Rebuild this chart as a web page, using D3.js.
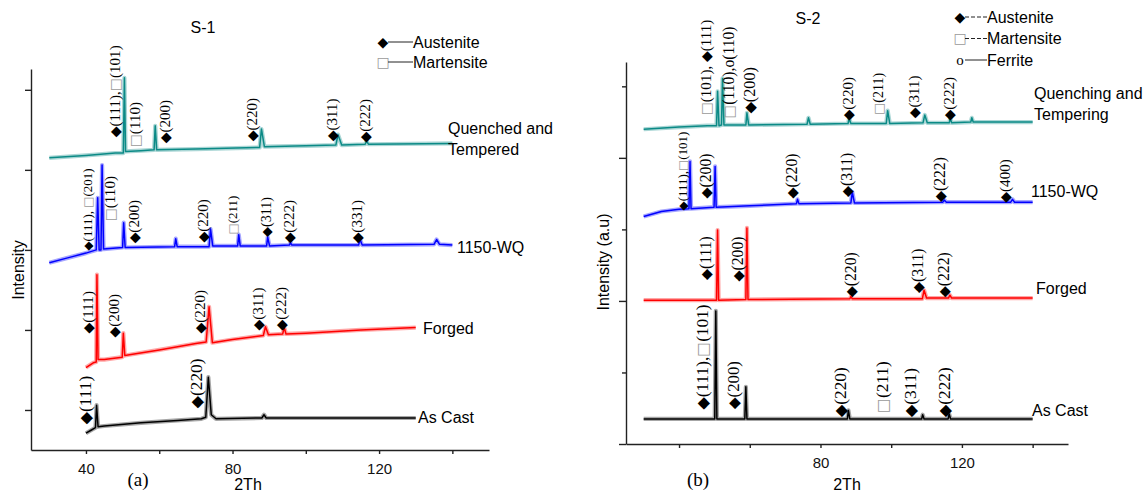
<!DOCTYPE html>
<html>
<head>
<meta charset="utf-8">
<script src="https://cdn.jsdelivr.net/npm/d3@7"></script>
<style>
  body { margin: 0; background: #fff; }
  text { font-family: "Liberation Sans", Arial, sans-serif; }
</style>
</head>
<body>
<svg id="chart" width="1145" height="495"></svg>
<script>

// XRD patterns: [2Th, intensity (stacked offset units)]
var s1AsCast = [[40,0.21],[41.5,0.25],[42.6,0.28],[42.9,0.56],[43.3,0.29],[45,0.30],[55,0.34],[65,0.37],[71.5,0.39],[72.7,0.41],[73.4,0.91],[74.2,0.44],[75.5,0.39],[88,0.40],[88.6,0.44],[89.2,0.40],[130,0.40]];
var s1Forged = [[40,1.03],[42,1.09],[42.8,1.10],[43.0,2.19],[43.3,1.13],[45,1.13],[49.9,1.16],[50.2,1.46],[50.6,1.18],[60,1.25],[70,1.33],[72.8,1.35],[73.6,1.79],[74.5,1.34],[80,1.38],[88.4,1.43],[89.0,1.54],[89.8,1.44],[93.7,1.45],[94.1,1.53],[94.6,1.45],[100,1.46],[115,1.50],[130,1.53]];
var s1WQ = [[30,2.34],[35,2.40],[40,2.46],[42.8,2.50],[43.2,3.15],[43.6,2.50],[44.1,2.50],[44.4,3.56],[44.8,2.51],[50.0,2.53],[50.3,2.84],[50.7,2.53],[64.2,2.54],[64.5,2.64],[64.9,2.54],[73.6,2.54],[74.0,2.76],[74.6,2.55],[81.4,2.55],[81.7,2.69],[82.1,2.55],[89.3,2.55],[89.6,2.66],[90.1,2.55],[95.5,2.56],[95.8,2.59],[96.2,2.56],[114.4,2.56],[114.8,2.63],[115.4,2.56],[135,2.57],[135.7,2.63],[136.5,2.57],[140,2.56]];
var s1QT = [[30,3.65],[40,3.68],[48,3.71],[50.2,3.71],[50.5,4.65],[50.8,3.73],[55,3.74],[58.6,3.75],[58.9,4.05],[59.3,3.75],[70,3.76],[87.4,3.78],[87.9,4.01],[88.7,3.79],[100,3.80],[108.2,3.81],[108.8,3.94],[109.8,3.81],[116.2,3.82],[116.6,3.86],[117.1,3.82],[140,3.83]];

var s2AsCast = [[30,0.35],[50.1,0.35],[50.4,1.86],[50.7,0.35],[58.6,0.35],[58.9,0.80],[59.2,0.35],[87.6,0.35],[87.9,0.47],[88.3,0.35],[108.6,0.35],[108.9,0.41],[109.3,0.35],[116.1,0.35],[116.4,0.42],[116.8,0.35],[140,0.35]];
var s2Forged = [[30,2.01],[50.6,2.01],[50.9,2.99],[51.2,2.01],[58.9,2.02],[59.2,3.02],[59.5,2.02],[88.3,2.03],[88.6,2.06],[89,2.03],[108.8,2.03],[109.3,2.15],[110.0,2.04],[116.2,2.04],[116.6,2.08],[117.1,2.04],[140,2.04]];
var s2WQ = [[30,3.18],[35,3.25],[40,3.28],[42.8,3.29],[43.1,3.95],[43.4,3.29],[49.9,3.31],[50.2,3.88],[50.5,3.31],[60,3.33],[73.2,3.36],[73.5,3.42],[73.9,3.36],[88.6,3.37],[89,3.52],[89.6,3.37],[114.6,3.38],[115,3.41],[115.6,3.38],[133.8,3.38],[134.3,3.42],[134.9,3.38],[140,3.38]];
var s2QT = [[30,4.40],[40,4.43],[48,4.45],[50.6,4.45],[50.9,4.93],[51.3,4.45],[52.0,4.46],[52.3,5.11],[52.7,4.46],[58.9,4.46],[59.2,4.63],[59.7,4.46],[76.2,4.47],[76.6,4.56],[77.1,4.47],[87.8,4.48],[88.1,4.55],[88.6,4.48],[98.6,4.48],[99,4.66],[99.6,4.48],[109,4.49],[109.5,4.60],[110.2,4.49],[116.4,4.49],[116.7,4.55],[117.1,4.49],[122.5,4.50],[122.8,4.56],[123.2,4.50],[140,4.50]];

// series names (bottom to top)
var s1Names = [["As Cast"], ["Forged"], ["1150-WQ"], ["Quenched and", "Tempered"]];
var s2Names = [["As Cast"], ["Forged"], ["1150-WQ"], ["Quenching and", "Tempering"]];

// peak annotations: [2Th, intensity at marker, text, font px]
var s1Peaks = [
  [47.9, 3.975, "◆(111),□(101)", 14], [53.4, 3.85, "□(110)", 14], [61.6, 3.90, "◆(200)", 14],
  [85.3, 3.925, "◆(220)", 14], [107.1, 3.925, "◆(311)", 14], [116.1, 3.91, "◆(222)", 14],
  [40.5, 2.55, "◆(111), □(201)", 12], [46.5, 2.925, "□(110)", 14], [53.1, 2.65, "◆(200)", 14],
  [71.9, 2.66, "◆(220)", 14], [80.1, 2.75, "□(211)", 12], [89.1, 2.725, "◆(311)", 13],
  [95.4, 2.65, "◆(222)", 14], [113.9, 2.65, "◆(331)", 14],
  [40.5, 1.525, "◆(111)", 14], [47.6, 1.475, "◆(200)", 14], [71.1, 1.525, "◆(220)", 14],
  [86.9, 1.5625, "◆(311)", 14], [93.2, 1.5625, "◆(222)", 14],
  [39.7, 0.40, "◆(111)", 16], [70.0, 0.60, "◆(220)", 16]
];
var s2Peaks = [
  [47.55, 4.67, "□(101), ◆(111)", 14], [53.9, 4.63, "□(110),o(110)", 14.5], [59.8, 4.70, "◆(200)", 15],
  [87.7, 4.60, "◆(220)", 14], [96.2, 4.67, "□(211)", 13], [106.5, 4.63, "◆(311)", 14], [116.2, 4.60, "◆(222)", 14],
  [40.9, 3.33, "◆(111),□(101)", 12], [47.4, 3.51, "◆(200)", 14.5], [71.7, 3.51, "◆(220)", 14.5],
  [87.4, 3.53, "◆(311)", 14.5], [113.8, 3.46, "◆(222)", 14.5], [132.2, 3.45, "◆(400)", 14],
  [47.6, 2.37, "◆(111)", 14.5], [56.5, 2.35, "◆(200)", 14.5], [88.6, 2.13, "◆(220)", 14.5],
  [107.5, 2.19, "◆(311)", 14.5], [114.9, 2.13, "◆(222)", 14.5],
  [46.6, 0.57, "◆(111),□(101)", 16], [55.4, 0.57, "◆(200)", 15.5], [85.5, 0.465, "◆(220)", 16],
  [97.3, 0.52, "□(211)", 16], [105.3, 0.465, "◆(311)", 16], [114.9, 0.465, "◆(222)", 16]
];

var xDomain = [25, 150];
var xTicks = [40, 60, 80, 100, 120, 140];
var colors = ["#000000", "#ff0000", "#0000ff", "#0b8a86"];

var svg = d3.select("#chart");


function peakLabel(g, x, y, d) {

  var size = d[3] * 1.08;
  var t = g.append("text")
           .attr("transform", "translate(" + x(d[0]) + "," + (y(d[1]) + size * 0.36) + ") rotate(-90)")
           .attr("dy", "0.35em")
           .style("font-family", "'Liberation Serif', 'Times New Roman', serif")
           .style("font-size", size + "px");

  // markers go in their own tspans so the square can be grey
  d[2].split(/([◆□])/).filter(String).forEach(function(part) {
    var span = t.append("tspan").text(part);
    if (part == "◆" || part == "□") {
      span.style("font-family", "'DejaVu Sans'").style("font-size", (size * 0.92) + "px");
    }
    if (part == "□") span.attr("fill", "#9a9a9a");
  });

}


function drawPanel(p) {

  var g = svg.append("g");

  var x = d3.scaleLinear().domain(xDomain).range([p.left, p.right]),
      y = d3.scaleLinear().domain([0, p.yMax]).range([p.bottom, p.top]);

  var line = d3.line()
               .x(function(d) { return x(d[0]); })
               .y(function(d) { return y(d[1]); });

  // soft band under each trace stands in for the detector noise
  p.series.forEach(function(s, i) {
    g.append("path").datum(s)
     .attr("d", line).attr("fill", "none")
     .attr("stroke", colors[i]).attr("stroke-opacity", 0.35)
     .attr("stroke-width", 4.2).attr("stroke-linejoin", "round");
    g.append("path").datum(s)
     .attr("d", line).attr("fill", "none")
     .attr("stroke", colors[i]).attr("stroke-width", 1.5)
     .attr("stroke-linejoin", "round");
  });

  // axes
  var xa = g.append("g")
            .attr("transform", "translate(0," + p.bottom + ")")
            .call(d3.axisBottom(x).tickValues(xTicks).tickSize(4).tickSizeOuter(0).tickPadding(9)
                    .tickFormat(function(d) { return p.xLabels.indexOf(d) >= 0 ? d : ""; }));

  var ya = g.append("g")
            .attr("transform", "translate(" + p.left + ",0)")
            .call(d3.axisLeft(y).tickValues(p.yTicks).tickSize(6).tickSizeOuter(0).tickFormat(""));

  if (p.altTicks) {
    ya.selectAll(".tick line").attr("x2", function(d) { return d % 2 == 0 ? -7 : -4; });
  }

  [xa, ya].forEach(function(a) {
    a.selectAll("path, line").attr("stroke", "#222").attr("stroke-width", 1.4);
    a.selectAll("text").attr("fill", "#111").style("font-size", "15px")
     .style("font-family", "'Liberation Sans', Arial, sans-serif");
  });

  // peak annotations
  p.peaks.forEach(function(d) { peakLabel(g, x, y, d); });

  // series names
  p.names.forEach(function(lines, i) {
    lines.forEach(function(txt, j) {
      g.append("text")
       .attr("x", p.nameAt[i][0]).attr("y", p.nameAt[i][1] + j * 21)
       .attr("dy", "0.35em")
       .style("font-size", "16px")
       .text(txt);
    });
  });

  // titles
  g.append("text").attr("x", p.titleAt[0]).attr("y", p.titleAt[1]).attr("dy", "0.35em")
   .attr("text-anchor", "middle").style("font-size", "16px").text(p.title);

  g.append("text").attr("x", p.xTitleAt).attr("y", 484).attr("dy", "0.35em")
   .attr("text-anchor", "middle").style("font-size", "16px").text("2Th");

  g.append("text").attr("x", p.tagAt).attr("y", 479).attr("dy", "0.35em")
   .attr("text-anchor", "middle")
   .style("font-family", "'Liberation Serif', serif").style("font-size", "19px")
   .text(p.tag);

  g.append("text")
   .attr("transform", "translate(" + p.yTitleAt[0] + "," + p.yTitleAt[1] + ") rotate(-90)")
   .attr("dy", "0.35em").attr("text-anchor", "middle")
   .style("font-size", "16px").text(p.yTitle);

  // legend
  p.legend.forEach(function(item, i) {
    var ly = p.legendAt[1] + i * p.legendStep,
        lx = p.legendAt[0];
    var m = g.append("text").attr("x", lx).attr("y", ly).attr("dy", "0.35em")
             .attr("text-anchor", "middle").text(item[0]);
    if (item[0] == "o") {
      m.style("font-family", "'Liberation Serif', serif").style("font-size", "15px");
    } else {
      m.style("font-family", "'DejaVu Sans'").style("font-size", "14px")
       .attr("fill", item[0] == "□" ? "#9a9a9a" : "#000");
    }
    g.append("line")
     .attr("x1", lx + 5).attr("x2", lx + p.legendLine).attr("y1", ly).attr("y2", ly)
     .attr("stroke", "#222").attr("stroke-width", 1)
     .attr("stroke-dasharray", item[2] ? "4,2" : null);
    g.append("text").attr("x", lx + p.legendLine).attr("y", ly).attr("dy", "0.35em")
     .style("font-size", "16px").text(item[1]);
  });

}


drawPanel({
  left: 31, right: 489, top: 69, bottom: 450, yMax: 4.76,
  yTicks: [0.5, 1.5, 2.5, 3.5, 4.5], xLabels: [40, 80, 120],
  series: [s1AsCast, s1Forged, s1WQ, s1QT],
  peaks: s1Peaks,
  names: s1Names, nameAt: [[418, 417], [423, 328], [457, 247], [448, 128]],
  title: "S-1", titleAt: [203, 27], xTitleAt: 248,
  tag: "(a)", tagAt: 138,
  yTitle: "Intensity", yTitleAt: [18, 270],
  legend: [["◆", "Austenite"], ["□", "Martensite"]],
  legendAt: [383, 42], legendStep: 20, legendLine: 30
});

drawPanel({
  left: 626, right: 1068, top: 62, bottom: 444, yMax: 5.34,
  yTicks: [0, 1, 2, 3, 4, 5], altTicks: true, xLabels: [80, 120],
  series: [s2AsCast, s2Forged, s2WQ, s2QT],
  peaks: s2Peaks,
  names: s2Names, nameAt: [[1032, 410], [1036, 288], [1031, 191], [1034, 93]],
  title: "S-2", titleAt: [808, 18], xTitleAt: 847,
  tag: "(b)", tagAt: 698,
  yTitle: "Intensity (a.u)", yTitleAt: [603, 262],
  legend: [["◆", "Austenite", true], ["□", "Martensite", true], ["o", "Ferrite"]],
  legendAt: [960, 17], legendStep: 21.5, legendLine: 27
});

</script>
</body>
</html>
